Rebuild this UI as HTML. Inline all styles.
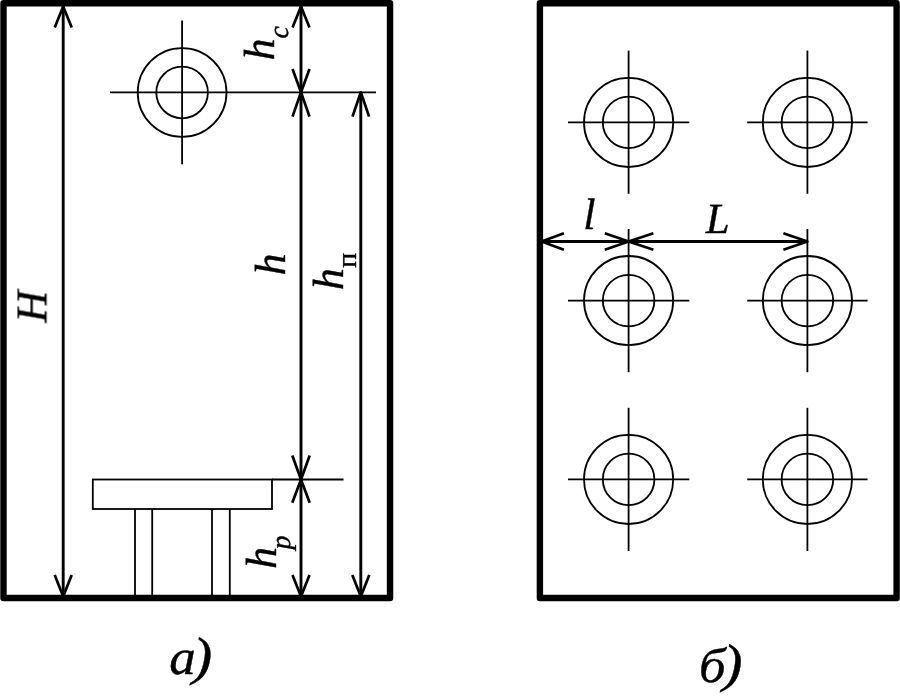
<!DOCTYPE html>
<html>
<head>
<meta charset="utf-8">
<style>
html,body{margin:0;padding:0;background:#fff;}
body{width:900px;height:698px;overflow:hidden;}
svg{display:block;}
text{font-family:"Liberation Serif",serif;font-style:italic;fill:#000;stroke:#000;stroke-width:0.4;text-rendering:geometricPrecision;}
.t{stroke:#000;stroke-width:1.8;fill:none;}
.m{stroke:#000;stroke-width:2.9;fill:none;}
.a{stroke:#000;stroke-width:2.7;fill:none;stroke-linecap:butt;stroke-linejoin:round;}
.f{stroke:#000;stroke-width:6.4;fill:none;stroke-linejoin:round;}
</style>
</head>
<body>
<svg width="900" height="698" viewBox="0 0 900 698">
<rect x="0" y="0" width="900" height="698" fill="#fff"/>

<!-- frame a -->
<rect class="f" x="3.5" y="3.2" width="386.55" height="594.8"/>
<!-- frame b -->
<rect class="f" x="539.9" y="3.2" width="356.7" height="594.8"/>

<!-- lamp a -->
<g class="t">
<circle cx="182.1" cy="92.5" r="44.4"/>
<circle cx="182.1" cy="92.5" r="25.8"/>
<line x1="182.1" y1="20.6" x2="182.1" y2="164.3"/>
<line x1="110" y1="92.4" x2="376" y2="92.4"/>
</g>

<!-- table -->
<g class="t">
<rect x="92.8" y="479.5" width="179.2" height="29.5"/>
<line x1="135" y1="509" x2="135" y2="596"/>
<line x1="152.2" y1="509" x2="152.2" y2="596"/>
<line x1="212" y1="509" x2="212" y2="596"/>
<line x1="229.8" y1="509" x2="229.8" y2="596"/>
<line x1="272" y1="479.5" x2="343.5" y2="479.5"/>
</g>

<!-- dimension lines a -->
<g class="m">
<line x1="63.2" y1="6" x2="63.2" y2="596"/>
<line x1="301" y1="6" x2="301" y2="596"/>
<line x1="360.8" y1="92.3" x2="360.8" y2="596"/>
</g>
<g class="a">
<!-- H -->
<polyline points="54.7,27.5 63.2,6.5 71.7,27.5"/>
<polyline points="54.7,575 63.2,596.5 71.7,575"/>
<!-- h column -->
<polyline points="292.5,27.5 301,6.5 309.5,27.5"/>
<polyline points="292.5,69 301,92.3 309.5,69"/>
<polyline points="292.5,116.6 301,92.3 309.5,116.6"/>
<polyline points="292.3,455.5 301,479.5 309.7,455.5"/>
<polyline points="292.3,502.7 301,479.5 309.7,502.7"/>
<polyline points="292.5,575 301,596.5 309.5,575"/>
<!-- hп -->
<polyline points="352.5,116.6 360.8,92.3 369.1,116.6"/>
<polyline points="352.3,575 360.8,596.5 369.3,575"/>
</g>

<!-- lamps b -->
<g class="t">
<g id="l1">
<circle cx="628.6" cy="122.4" r="44.6"/>
<circle cx="628.6" cy="122.4" r="25.8"/>
<line x1="628.6" y1="50.6" x2="628.6" y2="193.8"/>
<line x1="568" y1="122.4" x2="689.3" y2="122.4"/>
</g>
<g>
<circle cx="807.4" cy="122.4" r="44.6"/>
<circle cx="807.4" cy="122.4" r="25.8"/>
<line x1="807.4" y1="50.6" x2="807.4" y2="193.8"/>
<line x1="747.2" y1="122.4" x2="867.6" y2="122.4"/>
</g>
<g>
<circle cx="628.6" cy="300.6" r="44.6"/>
<circle cx="628.6" cy="300.6" r="25.8"/>
<line x1="628.6" y1="229" x2="628.6" y2="372.2"/>
<line x1="568" y1="300.6" x2="689.3" y2="300.6"/>
</g>
<g>
<circle cx="807.4" cy="300.6" r="44.6"/>
<circle cx="807.4" cy="300.6" r="25.8"/>
<line x1="807.4" y1="229" x2="807.4" y2="372.2"/>
<line x1="747.2" y1="300.6" x2="867.6" y2="300.6"/>
</g>
<g>
<circle cx="628.6" cy="479.4" r="44.6"/>
<circle cx="628.6" cy="479.4" r="25.8"/>
<line x1="628.6" y1="407.8" x2="628.6" y2="551"/>
<line x1="568" y1="479.4" x2="689.3" y2="479.4"/>
</g>
<g>
<circle cx="807.4" cy="479.4" r="44.6"/>
<circle cx="807.4" cy="479.4" r="25.8"/>
<line x1="807.4" y1="407.8" x2="807.4" y2="551"/>
<line x1="747.2" y1="479.4" x2="867.6" y2="479.4"/>
</g>
</g>

<!-- dimension b -->
<line class="m" x1="542" y1="241.5" x2="807" y2="241.5"/>
<g class="a">
<polyline points="563.9,233.2 541.5,241.5 563.9,249.7"/>
<polyline points="604.8,233.2 628.6,241.5 604.8,249.7"/>
<polyline points="653.4,233.2 628.6,241.5 653.4,249.7"/>
<polyline points="783.4,233.2 807.4,241.5 783.4,249.7"/>
</g>

<!-- text -->
<g style="opacity:0.999">
<text font-size="44" transform="translate(46.4,322.5) rotate(-90)">H</text>
<text font-size="43.5" transform="translate(285.2,275.3) rotate(-90)">h</text>
<text font-size="43.5" transform="translate(343,290) rotate(-90)">h</text>
<text font-size="28" style="font-style:normal" transform="translate(356,267.8) rotate(-90)">п</text>
<text font-size="43.5" transform="translate(274,60.3) rotate(-90)">h</text>
<text font-size="28" transform="translate(288,38.5) rotate(-90)">c</text>
<text font-size="43.5" transform="translate(275.8,568.8) rotate(-90)">h</text>
<text font-size="28" transform="translate(289.8,549.5) rotate(-90)">p</text>
<text x="583.2" y="229" font-size="44">l</text>
<text x="705.8" y="233.2" font-size="43">L</text>
<text font-size="50" transform="translate(169.2,674.4) scale(1.06,1)">а</text>
<text font-size="53" transform="translate(192.5,673.6) scale(1.12,1)">)</text>
<text font-size="49" transform="translate(699,682) scale(1.08,1)">б</text>
<text font-size="53" transform="translate(722.8,681.4) scale(1.12,1)">)</text>
</g>
</svg>
</body>
</html>
